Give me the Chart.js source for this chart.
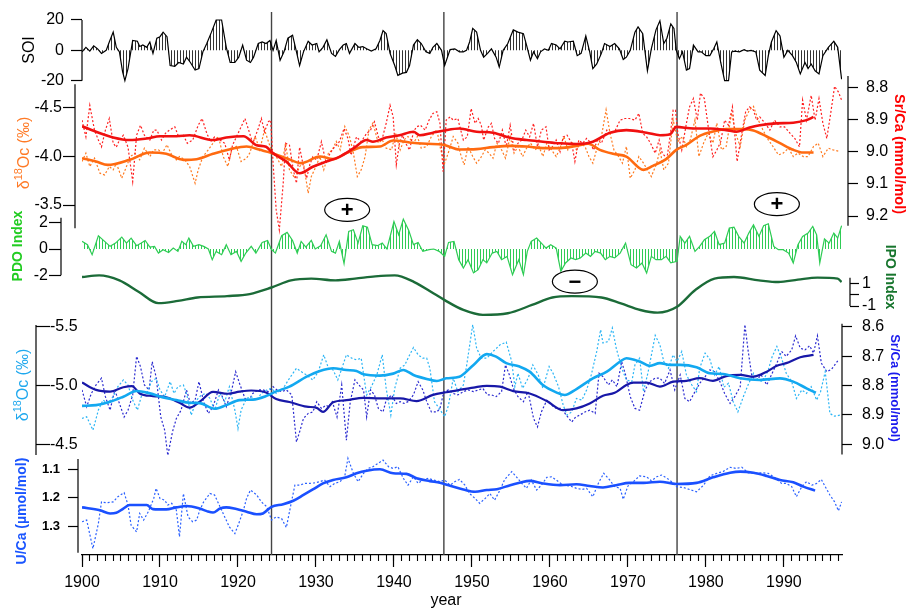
<!DOCTYPE html>
<html>
<head>
<meta charset="utf-8">
<script src="https://cdn.jsdelivr.net/npm/chart.js@4.4.1/dist/chart.umd.min.js"></script>
<style>
  html, body { margin: 0; padding: 0; background: #fff; }
  #wrap { width: 907px; height: 609px; }
</style>
</head>
<body>
<div id="wrap"><canvas id="c" width="907" height="609"></canvas></div>
<script>
// ---- data ----

// SOI
const soiYear = [
  1900.0,1900.5,1901.0,1901.5,1902.0,1902.5,1903.1,1903.5,1904.0,1904.4,
  1904.8,1905.2,1905.5,1905.9,1906.5,1907.1,1907.4,1907.8,1908.3,1908.7,
  1909.1,1909.6,1910.0,1910.4,1910.9,1911.3,1911.9,1912.4,1913.0,1913.4,
  1913.9,1914.5,1915.0,1915.5,1916.0,1916.6,1917.2,1917.9,1918.5,1919.0,
  1919.6,1920.1,1920.6,1921.1,1921.6,1922.0,1922.6,1923.1,1923.6,1924.1,
  1924.5,1924.9,1925.4,1925.9,1926.4,1927.0,1927.5,1927.9,1928.4,1929.0,
  1929.5,1930.1,1930.4,1930.9,1931.4,1932.0,1932.5,1933.0,1933.5,1933.9,
  1934.3,1935.0,1935.5,1936.0,1936.5,1937.1,1937.7,1938.2,1938.6,1939.0,
  1939.5,1940.1,1940.5,1941.1,1941.6,1942.0,1942.5,1943.0,1943.5,1944.1,
  1944.6,1945.0,1945.5,1946.1,1946.5,1947.2,1947.8,1948.4,1948.9,1949.3,
  1949.7,1950.1,1950.6,1951.1,1951.5,1952.0,1952.5,1953.1,1953.5,1954.0,
  1954.6,1955.3,1955.9,1956.6,1957.0,1957.5,1957.9,1958.4,1958.8,1959.3,
  1959.8,1960.2,1960.8,1961.3,1961.9,1962.3,1963.0,1963.5,1964.0,1964.6,
  1965.1,1965.5,1966.0,1966.6,1967.0,1967.7,1968.3,1968.9,1969.4,1969.8,
  1970.3,1970.9,1971.3,1971.9,1972.5,1973.0,1973.6,1974.1,1974.6,1975.0,
  1975.5,1975.9,1976.2,1976.6,1977.0,1977.5,1977.9,1978.4,1979.0,1979.4,
  1980.0,1980.5,1981.0,1981.4,1981.9,1982.4,1982.9,1983.3,1983.7,1984.3,
  1984.9,1985.3,1985.8,1986.4,1986.9,1987.6,1988.0,1988.4,1989.0,1989.5,
  1990.0,1990.5,1991.1,1991.6,1992.1,1992.7,1993.1,1993.5,1994.0,1994.5,
  1995.0,1995.7,1996.4,1996.9,1997.4
];
const soiValue = [
  -1,2,-0.5,3,1,-2,0,5.5,12,2,
  -1,-14,-20,-12,6.5,6,2.5,3.5,2,5.5,
  -2,8,9,12,9,-10,-10.5,-8,-9,-4.5,
  -8,-13,-12,-1,4.5,12,20,20,2,-8,
  -8,-4.5,3.5,-6.5,-8,-4.5,4.5,5.5,4.5,6.5,
  0,6.5,-6.5,-1,8,10,-1,-10,-1,6,
  3.5,4.5,-1,2,7,-2,-4,0.5,3.5,4.5,
  -2,4.5,2,2.5,1,-0.5,1,6.5,13,11,
  -2,-10,-16.5,-15,-14.5,-10,3.5,7,4.5,-1,
  -2,2,4.5,0,-10,0.5,1,-1,-1,0,
  5.5,14.5,12,0,-4.5,-2,1,-4.5,-11,0,
  4.5,13.5,12,11,3.5,-6.5,-1,-5.5,-1,1,
  0,4.5,3.5,1,6,5.5,6,-3.5,-2,9.5,
  -1,-12,-9,-2,4.5,2.5,4.5,1,-6,-4.5,
  0,12,15.5,11,-13.5,1,13.5,19.5,4.5,8,
  17.5,14.5,0,-5.5,-1,-13,-12,3.5,-1,-1,
  -3.5,-3.5,1,5.5,-8,-20,-20,-1,-0.5,-1,
  0.5,-0.5,0,-1,-13,-16.5,-3.5,5.5,13,9.5,
  -4.5,0,-3.5,-8,-15.5,-8,-12,-9,-13.5,-15.5,
  -3.5,2,6,2,-19
];

// Sr/Ca (red), smoothed
const srRedSmoothYear = [
  1900.0,1901.8,1904.0,1906.1,1908.3,1910.0,1912.1,1913.8,1916.8,1918.5,
  1920.7,1922.4,1923.6,1924.4,1926.2,1927.9,1929.6,1931.3,1933.0,1934.8,
  1936.5,1937.3,1939.0,1940.7,1942.5,1943.3,1945.0,1946.3,1948.4,1950.6,
  1952.7,1954.9,1957.0,1959.1,1961.3,1963.4,1965.5,1967.7,1969.8,1972.4,
  1974.1,1975.4,1976.2,1978.4,1980.5,1982.6,1983.9,1985.6,1986.9,1989.0,
  1991.2,1992.9,1993.8
];
const srRedSmooth = [
  8.921,8.938,8.956,8.964,8.959,8.952,8.952,8.949,8.964,8.956,
  8.952,8.980,8.985,9.003,9.031,9.067,9.047,9.031,9.016,8.990,
  8.964,8.969,8.956,8.949,8.938,8.949,8.941,8.935,8.928,8.938,
  8.941,8.957,8.964,8.969,8.974,8.976,8.969,8.941,8.933,8.941,
  8.949,8.946,8.923,8.928,8.928,8.933,8.938,8.925,8.918,8.912,
  8.910,8.902,8.892
];

// Sr/Ca (red), annual
const srRedYear = [
  1900.0,1900.5,1901.0,1901.6,1902.1,1902.5,1903.0,1903.5,1904.0,1904.4,
  1904.8,1905.3,1905.9,1906.5,1907.0,1907.5,1908.0,1908.7,1909.2,1909.6,
  1910.2,1910.7,1911.2,1911.9,1912.4,1913.0,1913.5,1914.2,1914.9,1915.4,
  1916.0,1916.5,1917.0,1917.7,1918.3,1918.9,1919.3,1919.8,1920.3,1920.9,
  1921.5,1921.9,1922.6,1923.0,1923.4,1923.9,1924.2,1924.5,1924.9,1925.3,
  1925.8,1926.1,1926.6,1927.1,1927.5,1927.9,1928.4,1928.8,1929.2,1929.6,
  1930.1,1930.7,1931.3,1931.8,1932.4,1933.0,1933.6,1934.1,1934.5,1935.2,
  1935.8,1936.5,1937.0,1937.5,1938.0,1938.4,1939.0,1939.5,1939.9,1940.3,
  1940.7,1941.1,1941.5,1942.0,1942.5,1942.9,1943.4,1944.0,1944.5,1945.0,
  1945.5,1945.9,1946.3,1946.7,1947.2,1947.6,1948.2,
  1948.4,1948.9,1949.4,1949.9,1950.4,1950.8,1951.2,1951.5,1952.1,1952.5,
  1952.9,1953.4,1953.9,1954.4,1954.9,1955.4,1955.9,1956.4,1956.9,1957.4,
  1957.9,1958.4,1958.9,1959.5,1959.9,1960.3,1960.8,1961.3,1961.7,1962.2,
  1962.8,1963.2,1963.7,1964.2,1964.7,1965.1,1965.6,1966.1,1966.6,1967.3,
  1967.7,1968.3,1969.0,1969.6,1970.2,1970.9,1971.4,1971.9,1972.4,1972.9,
  1973.5,1974.0,1974.4,1975.0,1975.4,1975.8,1976.1,1976.4,1976.9,1977.5,
  1977.9,1978.4,1978.9,1979.3,1979.8,1980.3,1980.9,1981.4,1981.9,1982.4,
  1982.9,1983.4,1984.0,1984.6,1985.1,1985.6,1986.1,1986.5,1986.9,1987.6,
  1988.2,1988.8,1989.5,1990.1,1990.8,1991.4,1992.0,1992.4,1992.9,1993.5,
  1994.0,1994.5,1995.0,1995.5,1996.0,1996.5,1997.0,1997.4
];
const srRed = [
  8.902,8.954,8.856,8.933,8.964,8.985,8.933,8.897,8.974,8.986,
  8.964,8.949,8.986,9.093,8.949,8.918,8.949,8.964,8.933,8.933,
  8.964,8.943,8.933,8.923,8.954,8.949,8.974,8.964,8.918,8.897,
  8.943,8.969,8.954,8.964,8.974,9.026,8.980,8.954,8.928,8.897,
  8.943,8.974,8.928,8.897,8.938,8.907,8.902,9.036,9.181,9.243,
  9.098,8.974,8.980,9.057,9.098,8.986,9.047,9.083,9.041,9.016,
  9.026,8.969,9.036,9.005,8.985,8.969,8.928,8.959,9.011,8.954,
  8.969,8.943,8.933,8.907,8.954,8.969,8.912,8.856,8.892,9.041,
  8.974,8.949,8.974,8.995,8.938,8.923,8.918,8.933,8.902,8.881,
  8.876,8.912,9.062,8.902,8.892,8.902,8.897,
  8.918,8.964,8.954,8.866,8.912,8.897,8.918,8.964,8.923,8.912,
  8.959,8.974,8.933,8.985,8.918,8.995,8.974,8.964,8.933,8.954,
  8.912,8.985,8.933,8.923,8.995,8.985,8.964,9.000,8.954,8.949,
  8.974,9.031,8.964,8.974,8.959,8.969,8.995,8.964,8.974,8.933,
  8.943,8.938,8.902,8.897,8.897,8.902,8.881,8.943,8.954,8.974,
  9.005,8.964,9.005,9.021,8.954,8.871,8.871,8.943,8.995,8.912,
  8.861,8.835,8.902,8.818,8.835,8.923,9.016,8.995,8.969,8.902,
  8.918,8.861,9.031,8.943,8.876,8.861,8.871,8.902,8.892,8.912,
  8.933,8.902,8.923,8.923,8.943,8.959,8.985,8.840,8.902,8.825,
  8.902,8.835,8.912,8.959,8.881,8.797,8.815,8.840
];

// d18O (orange), smoothed
const o18OrangeSmoothYear = [
  1900.0,1901.8,1903.3,1906.1,1908.7,1910.8,1913.0,1914.7,1916.8,1919.0,
  1921.1,1922.8,1924.4,1926.2,1928.1,1930.5,1932.2,1933.9,1936.0,1938.2,
  1939.9,1942.0,1944.2,1946.3,1948.4,1950.6,1952.7,1954.9,1957.0,1959.1,
  1961.3,1963.4,1964.9,1966.4,1968.1,1969.8,1972.0,1973.2,1974.9,1976.2,
  1977.5,1979.2,1980.9,1982.6,1984.8,1986.1,1987.8,1989.5,1991.2,1992.5,
  1993.8
];
const o18OrangeSmooth = [
  -3.981,-3.947,-3.912,-3.964,-4.039,-4.026,-3.964,-3.971,-4.026,-4.074,
  -4.101,-4.067,-4.033,-3.981,-3.930,-3.998,-3.971,-4.033,-4.095,-4.101,
  -4.163,-4.143,-4.129,-4.119,-4.070,-4.074,-4.095,-4.108,-4.101,-4.085,
  -4.085,-4.108,-4.129,-4.067,-4.026,-3.998,-3.861,-3.902,-3.971,-4.067,
  -4.119,-4.211,-4.256,-4.280,-4.280,-4.266,-4.204,-4.136,-4.067,-4.039,
  -4.039
];

// d18O (orange), annual
const o18OrangeYear = [
  1900.0,1900.5,1901.0,1901.6,1902.3,1902.9,1903.5,1904.0,1904.4,1905.1,
  1905.7,1906.2,1906.8,1907.4,1908.0,1908.7,1909.2,1909.8,1910.3,1910.9,
  1911.6,1912.1,1912.5,1913.2,1913.8,1914.5,1914.9,1915.5,1916.2,1916.8,
  1917.5,1918.1,1918.7,1919.2,1919.8,1920.4,1921.1,1921.5,1922.2,1922.8,
  1923.4,1923.9,1924.4,1924.9,1925.6,1926.1,1926.6,1927.3,1927.9,1928.4,
  1929.0,1929.4,1930.0,1930.5,1931.0,1931.6,1932.1,1932.6,1933.1,1933.7,
  1934.3,1934.8,1935.3,1935.8,1936.3,1936.8,1937.3,1938.0,1938.5,1939.0,
  1939.7,1940.2,1940.8,1941.3,1941.8,1942.5,1943.0,1943.5,1944.2,1944.8,
  1945.5,1946.0,1946.5,1947.1,1947.6,1948.2,1948.5,1949.0,1949.5,1950.1,
  1950.6,1951.1,1951.7,1952.2,1952.7,1953.2,1953.8,1954.3,1954.9,1955.4,
  1955.9,1956.5,1957.0,1957.5,1958.1,1958.6,1959.1,1959.6,1960.2,1960.8,
  1961.3,1961.8,1962.3,1962.9,1963.4,1963.9,1964.5,1965.0,1965.5,1966.1,
  1966.6,1967.2,1967.7,1968.2,1968.8,1969.3,1969.8,1970.3,1970.9,1971.4,
  1972.0,1972.5,1973.0,1973.7,1974.1,1974.6,1975.2,1975.8,1976.4,1977.0,
  1977.5,1978.0,1978.6,1979.1,1979.7,1980.3,1980.9,1981.4,1982.0,1982.6,
  1983.3,1983.8,1984.4,1985.0,1985.6,1986.1,1986.7,1987.3,1988.0,1988.6,
  1989.3,1989.9,1990.6,1991.2,1991.8,1992.5,1993.1,1993.8,1994.4,1995.0,
  1995.7,1996.3,1997.2
];
const o18Orange = [
  -3.947,-4.033,-3.895,-3.981,-3.827,-3.809,-3.895,-3.861,-3.930,-3.775,
  -3.895,-3.998,-4.033,-3.964,-4.084,-3.998,-4.067,-4.067,-4.033,-4.119,
  -3.998,-3.964,-3.998,-3.964,-3.895,-3.724,-3.861,-3.998,-4.067,-4.136,
  -4.204,-3.998,-3.895,-4.067,-4.101,-3.947,-3.981,-4.033,-4.204,-4.067,
  -4.273,-4.153,-4.033,-3.998,-3.895,-4.136,-3.861,-3.775,-3.895,-3.930,
  -3.621,-3.792,-3.895,-3.998,-3.861,-4.033,-4.067,-4.153,-4.067,-4.307,
  -4.204,-4.033,-3.792,-3.861,-3.998,-4.273,-4.342,-4.136,-4.170,-4.084,
  -4.067,-4.239,-4.067,-4.170,-4.204,-4.136,-4.204,-4.084,-4.101,-4.204,
  -4.273,-4.067,-3.930,-4.067,-4.204,-4.136,-4.033,-3.912,-4.101,-3.998,
  -3.930,-3.981,-4.067,-4.033,-3.981,-4.136,-4.067,-3.981,-4.204,-4.033,
  -4.101,-3.998,-4.084,-4.136,-4.067,-4.101,-3.998,-4.136,-4.067,-3.998,
  -4.084,-4.204,-4.067,-4.136,-4.067,-4.136,-4.101,-3.998,-3.930,-4.101,
  -4.204,-4.479,-4.239,-4.067,-3.998,-3.930,-4.101,-3.775,-3.861,-3.998,
  -3.930,-3.861,-3.792,-3.930,-4.067,-3.861,-3.930,-4.376,-4.153,-4.204,
  -4.101,-4.170,-4.376,-3.998,-4.136,-4.239,-4.136,-4.342,-4.067,-4.101,
  -4.445,-4.239,-4.101,-4.376,-4.479,-4.514,-4.376,-4.273,-4.170,-4.101,
  -4.015,-4.033,-4.084,-3.998,-4.033,-3.998,-3.998,-4.101,-4.136,-3.998,
  -4.084,-4.067,-4.050
];

// PDO index
const pdoYear = [
  1900.0,1900.7,1901.3,1902.1,1902.9,1903.6,1904.3,1905.1,1905.7,1906.3,
  1907.0,1907.6,1908.1,1908.7,1909.3,1909.8,1910.4,1911.1,1911.7,1912.3,
  1912.8,1913.3,1913.7,1914.3,1915.0,1915.6,1916.2,1916.7,1917.2,1917.9,
  1918.5,1919.1,1919.8,1920.4,1921.0,1921.7,1922.3,1923.1,1923.8,1924.3,
  1924.8,1925.6,1926.3,1927.0,1927.6,1928.1,1928.7,1929.4,1929.9,1930.6,
  1931.3,1932.0,1932.5,1933.0,1933.6,1934.2,1934.8,1935.4,1936.0,1936.6,
  1937.2,1937.9,1938.5,1939.1,1940.0,1940.6,1941.2,1941.9,1942.5,1943.1,
  1943.7,1944.5,1945.1,1945.8,1946.5,1947.0,1947.7,1948.3,1948.9,1949.5,
  1950.2,1950.8,1951.4,1951.9,1952.6,1953.2,1953.8,1954.5,1955.2,1956.0,
  1956.6,1957.1,1957.6,1958.3,1958.9,1959.5,1960.1,1960.8,1961.4,1962.0,
  1962.7,1963.3,1963.9,1964.6,1965.2,1965.8,1966.5,1967.1,1967.7,1968.3,
  1969.0,1969.7,1970.4,1971.1,1971.8,1972.4,1973.0,1973.6,1974.3,1974.9,
  1975.5,1976.3,1976.7,1977.3,1977.9,1978.6,1979.2,1979.8,1980.5,1981.1,
  1981.7,1982.4,1983.0,1983.6,1984.2,1984.9,1985.5,1986.1,1986.8,1987.4,
  1988.0,1988.7,1989.3,1989.9,1990.6,1991.2,1991.8,1992.4,1993.1,1993.7,
  1994.2,1994.6,1995.2,1995.8,1996.4,1996.9,1997.4
];
const pdoValue = [
  0.58,0.33,-0.43,1.01,0.58,0.20,0.45,0.91,0.45,0.83,
  0.25,0.45,0.65,0.15,0.20,-0.31,-0.05,-0.26,0.07,-0.18,
  0.58,0.33,0.83,0.20,0.33,0.20,0.00,-0.81,-0.18,-0.43,
  0.33,-0.43,-0.18,-0.94,-0.31,0.20,-0.31,0.50,0.65,-0.05,
  -0.31,1.01,1.26,0.65,-0.31,0.58,0.15,0.65,0.00,0.25,
  1.08,-0.18,-0.31,0.58,-1.11,1.34,1.46,0.45,1.77,1.66,
  0.33,0.25,0.45,0.00,2.09,1.08,2.27,1.41,0.33,0.50,
  -0.18,-0.05,0.00,-0.18,-0.56,0.50,0.58,-0.81,-1.44,-0.81,
  -1.82,-1.57,-0.81,-1.06,-0.31,-0.18,-0.81,-0.56,-1.95,-0.81,
  -1.95,-0.18,0.58,0.83,0.45,0.07,0.33,0.07,-1.69,-1.06,
  -0.68,-0.81,-0.68,-0.31,-0.56,-0.18,-0.31,-0.81,-0.56,-0.68,
  -0.31,0.45,-1.19,-1.44,-1.06,-1.82,-0.56,-0.81,-0.81,-0.56,
  -1.06,-0.94,0.96,0.45,0.96,-0.18,0.20,0.70,0.96,1.34,
  0.33,0.45,1.59,1.66,0.96,0.45,1.21,1.84,0.96,1.77,
  1.92,0.20,-0.05,-0.05,-0.31,-1.06,0.33,0.96,1.21,1.71,
  1.08,-1.06,0.76,0.45,1.21,0.83,1.77
];

// IPO index (smoothed)
const ipoYear = [
  1900.0,1902.2,1904.8,1907.3,1909.8,1912.3,1914.8,1918.6,1921.5,1924.3,
  1926.8,1929.4,1932.5,1935.0,1937.6,1940.1,1942.6,1945.1,1946.5,1948.9,
  1951.4,1954.6,1957.7,1960.3,1962.8,1966.6,1969.1,1971.6,1973.8,1976.3,
  1978.6,1981.1,1983.6,1986.8,1989.3,1991.8,1994.3,1996.9,1997.4
];
const ipoValue = [
  1.55,1.70,1.26,0.24,-0.75,-0.55,-0.25,-0.13,0.05,0.63,
  1.26,1.41,1.26,1.41,1.61,1.70,1.11,0.10,-0.48,-1.35,
  -1.78,-1.64,-0.91,-0.25,-0.13,-0.25,-0.77,-1.35,-1.58,-1.06,
  0.39,1.41,1.55,1.26,1.11,1.32,1.50,1.41,1.11
];

// d18O (light blue), smoothed
const o18BlueSmoothYear = [
  1900.0,1901.8,1903.6,1905.3,1907.0,1908.7,1910.4,1912.1,1913.8,1915.1,
  1917.0,1918.5,1920.2,1921.9,1923.6,1924.9,1926.6,1928.8,1930.5,1932.2,
  1933.9,1935.2,1936.1,1938.2,1939.9,1941.2,1942.5,1944.2,1945.5,1946.7,
  1948.4,1950.2,1951.9,1953.1,1954.4,1956.1,1957.4,1959.1,1960.8,1961.9,
  1963.4,1965.5,1967.3,1969.0,1969.8,1971.5,1972.8,1974.1,1975.4,1976.7,
  1978.8,1980.5,1982.2,1984.4,1986.9,1989.5,1991.2,1992.9,1994.1
];
const o18BlueSmooth = [
  -4.827,-4.833,-4.862,-4.905,-4.953,-4.933,-4.899,-4.876,-4.853,-4.850,
  -4.802,-4.833,-4.876,-4.880,-4.910,-4.950,-4.990,-5.075,-5.124,-5.147,
  -5.132,-5.124,-5.095,-5.084,-5.101,-5.132,-5.090,-5.056,-5.038,-5.061,
  -5.075,-5.175,-5.267,-5.246,-5.190,-5.161,-5.118,-5.004,-4.942,-4.919,
  -4.970,-5.061,-5.118,-5.204,-5.232,-5.204,-5.167,-5.190,-5.175,-5.175,
  -5.155,-5.104,-5.098,-5.061,-5.047,-5.061,-5.033,-4.976,-4.938
];

// d18O (light blue), annual
const o18BlueYear = [
  1900.0,1900.6,1901.4,1902.1,1902.7,1903.3,1904.0,1904.6,1905.3,1905.9,
  1906.5,1907.1,1907.6,1908.3,1908.9,1909.5,1910.0,1910.6,1911.3,1911.8,
  1912.3,1913.0,1913.4,1914.0,1914.7,1915.3,1915.9,1916.4,1917.0,1917.7,
  1918.3,1918.9,1919.6,1920.0,1920.4,1921.1,1921.7,1922.4,1923.0,1923.7,
  1924.3,1924.9,1925.8,1926.6,1927.5,1928.1,1928.8,1929.6,1930.3,1931.0,
  1931.6,1932.2,1932.8,1933.4,1933.9,1934.6,1935.2,1935.8,1936.5,1937.1,
  1937.8,1938.5,1939.0,1939.6,1940.1,1940.8,1941.4,1941.8,1942.5,1943.1,
  1943.7,1944.2,1944.6,1945.2,1945.8,1946.5,1947.0,1947.6,1948.2,1948.9,
  1949.3,1950.1,1950.6,1951.2,1951.9,1952.7,1953.6,1954.4,1955.1,1955.5,
  1955.9,1956.5,1957.2,1957.8,1958.5,1959.1,1959.9,1960.4,1961.1,1961.7,
  1962.2,1962.8,1963.4,1964.1,1964.7,1965.3,1966.0,1966.5,1966.8,1967.5,
  1968.0,1968.5,1969.2,1969.8,1970.5,1970.9,1971.5,1972.0,1972.6,1973.5,
  1974.1,1974.6,1975.2,1975.8,1976.3,1976.9,1977.5,1978.2,1978.8,
  1979.2,1979.9,1980.5,1981.1,1981.7,1982.3,1982.9,1983.5,1984.1,1984.8,
  1985.4,1986.1,1986.7,1987.3,1988.0,1988.5,1989.1,1989.7,1990.3,1991.0,
  1991.6,1992.3,1992.9,1993.5,1994.2,1994.7,1995.3,1995.9,1996.5,1997.2
];
const o18Blue = [
  -4.720,-4.734,-4.620,-4.791,-4.876,-4.848,-4.905,-4.990,-5.047,-5.004,
  -4.876,-4.791,-4.905,-4.933,-5.033,-5.061,-4.962,-4.905,-5.033,-4.933,
  -4.990,-5.004,-4.933,-4.748,-4.876,-4.919,-4.933,-4.890,-4.791,-4.933,
  -4.862,-4.990,-4.791,-4.634,-4.791,-4.890,-4.905,-4.876,-4.933,-4.962,
  -4.976,-4.933,-4.976,-5.061,-5.147,-5.118,-5.090,-5.047,-5.118,-5.261,
  -5.147,-5.132,-5.047,-5.161,-5.261,-5.232,-5.218,-5.232,-4.919,-4.990,
  -5.090,-5.261,-4.976,-4.748,-4.976,-5.147,-5.175,-5.232,-5.323,-5.261,
  -5.232,-5.232,-5.147,-4.862,-4.805,-4.734,-4.833,-5.061,-4.947,-5.004,
  -5.161,-5.517,-5.318,-5.232,-5.232,-5.289,-5.346,-5.369,-5.204,-4.990,
  -5.104,-4.976,-5.061,-5.175,-5.090,-4.976,-5.161,-5.104,-4.990,-4.833,
  -4.748,-4.776,-4.890,-4.876,-4.962,-5.090,-5.289,-5.474,-5.361,-5.375,
  -5.489,-5.318,-5.147,-5.047,-5.033,-5.175,-5.232,-4.947,-5.118,-5.426,
  -5.346,-5.204,-5.147,-5.261,-5.204,-5.289,-5.090,-5.004,-4.947,
  -5.147,-5.275,-5.224,-5.090,-5.161,-4.985,-5.019,-4.862,-4.776,-4.905,
  -5.004,-5.104,-5.047,-5.033,-5.132,-5.246,-5.332,-5.232,-5.104,-5.033,
  -4.890,-4.962,-4.933,-4.990,-4.876,-4.947,-5.118,-4.762,-4.739,-4.748
];

// Sr/Ca (dark blue), smoothed
const srBlueSmoothYear = [
  1900.0,1901.8,1903.6,1905.3,1906.4,1907.4,1909.1,1910.8,1912.5,1913.8,
  1915.1,1916.8,1918.7,1920.2,1921.7,1923.6,1924.9,1926.6,1928.8,1930.1,
  1930.9,1932.2,1933.9,1936.1,1938.2,1940.8,1942.9,1945.0,1946.7,1948.4,
  1950.2,1951.9,1953.6,1955.3,1957.4,1959.6,1961.7,1963.4,1965.1,1966.8,
  1968.3,1969.8,1970.7,1972.4,1974.1,1975.8,1977.5,1979.2,1980.9,1982.6,
  1984.4,1986.1,1987.8,1989.1,1990.3,1992.1,1993.8
];
const srBlueSmooth = [
  8.790,8.815,8.821,8.806,8.802,8.827,8.836,8.840,8.859,8.875,
  8.855,8.822,8.828,8.821,8.817,8.824,8.846,8.856,8.872,8.876,
  8.890,8.857,8.850,8.842,8.844,8.844,8.853,8.832,8.823,8.815,
  8.807,8.801,8.804,8.819,8.827,8.853,8.884,8.878,8.861,8.835,
  8.825,8.798,8.790,8.790,8.804,8.787,8.784,8.775,8.784,8.768,
  8.764,8.770,8.753,8.733,8.724,8.704,8.696
];

// Sr/Ca (dark blue), annual
const srBlueYear = [
  1900.0,1900.6,1901.2,1901.8,1902.5,1903.0,1903.6,1904.2,1904.8,1905.4,
  1905.9,1906.5,1907.0,1907.5,1908.0,1908.6,1909.0,1909.5,1910.1,1910.6,
  1911.0,1911.6,1912.1,1912.7,1913.4,1913.9,1914.5,1915.0,1915.6,1916.2,
  1916.8,1917.5,1918.0,1918.5,1919.2,1919.7,1920.2,1920.9,1921.4,1921.9,
  1922.6,1923.2,1923.9,1924.5,1925.0,1925.6,1926.2,1926.9,1927.5,1927.9,
  1928.4,1929.0,1929.6,1930.1,1930.7,1931.3,1931.6,1932.1,1932.7,1933.3,
  1933.9,1934.4,1935.0,1935.5,1936.1,1936.5,1937.0,1937.5,1938.0,1938.6,
  1939.0,1939.7,1940.3,1940.8,1941.3,1941.8,1942.5,1943.1,1943.7,1944.2,
  1944.8,1945.5,1945.9,1946.4,1947.0,1947.6,1948.2,1948.9,1949.5,1950.2,
  1950.8,1951.4,1952.0,1952.5,1953.1,1953.8,1954.3,1954.8,1955.3,1955.9,
  1956.6,1957.2,1957.9,1958.4,1958.9,1959.6,1960.2,1960.8,1961.5,1962.1,
  1962.8,1963.3,1963.8,1964.5,1965.1,1965.8,1966.3,1966.8,1967.5,1968.0,
  1968.6,1969.2,1969.7,1970.3,1970.9,1971.5,1972.2,1972.8,1973.5,1974.1,
  1974.7,1975.4,1976.0,1976.7,1977.3,1977.9,1978.6,1979.2,1979.9,1980.5,
  1981.1,1981.8,1982.4,1983.1,1983.7,1984.4,1985.0,1985.4,1985.9,1986.5,
  1987.1,1987.8,1988.4,1989.1,1989.7,1990.3,1991.0,1991.5,1992.1,1992.7,
  1993.3,1993.8,1994.3,1994.8,1995.5,1996.1,1997.0
];
const srBlue = [
  8.815,8.872,8.827,8.798,8.775,8.838,8.884,8.815,8.861,8.907,
  8.884,8.832,8.701,8.736,8.798,8.815,8.719,8.770,8.907,8.952,
  9.038,8.958,8.912,8.884,8.815,8.861,8.850,8.787,8.855,8.895,
  8.872,8.815,8.838,8.872,8.815,8.753,8.793,8.844,8.850,8.827,
  8.815,8.815,8.821,8.804,8.815,8.821,8.815,8.832,8.992,8.958,
  8.912,8.895,8.890,8.855,8.878,8.867,8.872,8.855,8.907,8.798,
  8.986,8.855,8.781,8.798,8.815,8.907,8.815,8.832,8.878,8.890,
  8.850,8.832,8.861,8.855,8.861,8.855,8.832,8.787,8.815,8.855,
  8.890,8.890,8.878,8.821,8.815,8.827,8.832,8.821,8.815,8.821,
  8.815,8.810,8.832,8.832,8.838,8.821,8.730,8.764,8.810,8.838,
  8.855,8.821,8.912,8.941,8.890,8.850,8.867,8.878,8.878,8.901,
  8.924,8.907,8.901,8.890,8.884,8.895,8.758,8.770,8.798,8.781,
  8.804,8.719,8.764,8.838,8.878,8.884,8.815,8.787,8.775,8.775,
  8.793,8.747,8.815,8.764,8.844,8.855,8.821,8.793,8.770,8.747,
  8.753,8.787,8.827,8.861,8.838,8.804,8.593,8.679,8.770,8.781,
  8.764,8.798,8.764,8.724,8.684,8.701,8.679,8.631,8.673,8.679,
  8.665,8.690,8.631,8.724,8.753,8.745,8.713
];

// U/Ca, smoothed
const uCaSmoothYear = [
  1900.0,1902.3,1903.6,1904.4,1905.3,1906.1,1908.3,1909.1,1910.8,1912.1,
  1913.4,1915.1,1916.0,1916.8,1917.7,1918.5,1919.8,1921.1,1922.4,1923.2,
  1924.3,1925.8,1927.1,1928.4,1929.6,1930.9,1932.2,1933.9,1935.2,1936.5,
  1938.2,1939.9,1941.6,1942.9,1944.6,1945.9,1947.2,1948.9,1950.4,1951.9,
  1953.2,1954.9,1956.1,1957.4,1959.1,1961.3,1963.4,1965.1,1966.8,1968.5,
  1970.2,1972.0,1974.1,1976.2,1978.8,1980.9,1983.1,1984.4,1986.1,1987.8,
  1989.5,1991.2,1992.5,1994.0
];
const uCaSmooth = [
  1.233,1.243,1.254,1.252,1.237,1.225,1.225,1.239,1.240,1.233,
  1.228,1.237,1.246,1.251,1.237,1.233,1.239,1.248,1.257,1.254,
  1.231,1.222,1.210,1.190,1.171,1.150,1.138,1.129,1.115,1.106,
  1.101,1.115,1.117,1.132,1.142,1.148,1.158,1.171,1.179,1.173,
  1.170,1.156,1.148,1.141,1.150,1.156,1.153,1.159,1.164,1.156,
  1.148,1.148,1.144,1.152,1.148,1.129,1.113,1.109,1.113,1.124,
  1.138,1.146,1.161,1.175
];

// U/Ca, annual
const uCaYear = [
  1900.0,1900.6,1901.4,1902.1,1902.5,1903.1,1904.0,1904.6,1905.4,1905.9,
  1906.3,1907.0,1907.4,1907.9,1908.5,1909.2,1909.5,1910.0,1910.6,1911.0,
  1911.5,1912.1,1912.5,1913.0,1913.6,1914.2,1914.7,1915.1,1915.6,1916.4,
  1917.0,1917.7,1918.3,1918.9,1919.6,1920.1,1920.7,1921.1,1921.6,1922.4,
  1923.0,1923.7,1924.3,1924.9,1925.6,1926.2,1926.9,1927.3,1927.9,1928.6,
  1929.2,1929.8,1930.5,1931.1,1931.8,1932.4,1933.1,1933.7,1934.1,1934.8,
  1935.4,1936.1,1936.7,1937.3,1938.0,1938.6,1939.3,1939.9,1940.5,1941.2,
  1941.8,1942.5,1943.1,1943.7,1944.4,1945.0,1945.9,1946.5,1947.2,1947.8,
  1948.4,1949.1,1949.7,1950.4,1951.0,1951.7,1952.3,1952.9,1953.6,1954.2,
  1955.1,1955.7,1956.4,1957.0,1957.6,1958.3,1958.9,1959.6,1960.2,1960.8,
  1961.7,1962.6,1963.4,1964.1,1964.7,1965.5,1966.2,1966.9,1967.6,1968.3,
  1969.0,1969.4,1970.0,1970.7,1971.5,1972.4,1973.0,1973.7,1974.3,1975.0,
  1975.6,1976.2,1977.1,1977.9,1978.8,1979.7,1980.5,1981.4,1982.2,1983.1,
  1983.9,1984.6,1985.4,1986.3,1987.1,1988.0,1988.8,1989.7,1990.3,1991.0,
  1991.6,1992.3,1992.9,1993.6,1994.2,1994.8,1995.3,1995.9,1996.5,1997.0,
  1997.4
];
const uCa = [
  1.283,1.277,1.376,1.289,1.214,1.217,1.214,1.196,1.182,1.225,
  1.295,1.318,1.254,1.277,1.248,1.202,1.167,1.202,1.208,1.225,
  1.219,1.243,1.335,1.185,1.266,1.283,1.277,1.243,1.214,1.185,
  1.190,1.231,1.266,1.301,1.324,1.289,1.243,1.202,1.173,1.190,
  1.214,1.231,1.277,1.266,1.272,1.303,1.208,1.156,1.156,1.150,
  1.150,1.148,1.144,1.138,1.161,1.150,1.144,1.124,1.063,1.115,
  1.144,1.115,1.098,1.092,1.080,1.069,1.092,1.098,1.092,1.132,
  1.156,1.127,1.150,1.138,1.132,1.138,1.144,1.138,1.156,1.144,
  1.136,1.156,1.185,1.202,1.219,1.202,1.185,1.208,1.173,1.136,
  1.109,1.127,1.150,1.167,1.138,1.173,1.156,1.129,1.127,1.138,
  1.156,1.159,1.167,1.171,1.167,1.196,1.150,1.115,1.136,1.161,
  1.167,1.205,1.159,1.144,1.124,1.127,1.141,1.127,1.121,1.132,
  1.144,1.161,1.164,1.171,1.179,1.156,1.124,1.115,1.109,1.094,
  1.098,1.094,1.113,1.115,1.113,1.115,1.129,1.150,1.150,1.161,
  1.196,1.161,1.144,1.156,1.150,1.136,1.161,1.190,1.214,1.245,
  1.214
];

// regime boundaries and phase marks
const shiftYears = [1924.3, 1946.4, 1976.3];
const phaseMarks = [
  { year: 1934.0, pdo: 2.98, sign: "+" },
  { year: 1989.1, pdo: 3.41, sign: "+" },
  { year: 1963.2, pdo: -2.48, sign: "\u2212" }
];

// tick values
const xMajorTicks = [1900, 1910, 1920, 1930, 1940, 1950, 1960, 1970, 1980, 1990];
const xMinorTicks = Array.from({ length: 98 }, (_, i) => 1900 + i);
const soiTicks = [20, 0, -20];
const o18OrangeTicks = [-4.5, -4.0, -3.5];
const srRedTicks = [8.8, 8.9, 9.0, 9.1, 9.2];
const pdoTicks = [2, 0, -2];
const ipoTicks = [1, 0, -1];
const o18BlueTicks = [-5.5, -5.0, -4.5];
const srBlueTicks = [8.6, 8.7, 8.8, 8.9, 9.0];
const uCaTicks = [1.1, 1.2, 1.3];

// ---- layout ----
const TOP = 12, BOTTOM = 555;
const FONT = "'Liberation Sans', Arial, sans-serif";

// value/pixel pairs measured on the figure -> axis range over the whole plot height
function fitRange(v1, p1, v2, p2) {
  const s = (p2 - p1) / (v2 - v1);
  const a = v1 + (TOP - p1) / s, b = v1 + (BOTTOM - p1) / s;
  return s > 0 ? { min: a, max: b, reverse: true } : { min: b, max: a, reverse: false };
}

function yAxis(o) {
  const r = fitRange(...o.cal);
  return {
    type: "linear", position: o.pos, weight: o.weight,
    min: r.min, max: r.max, reverse: r.reverse,
    afterBuildTicks: s => { s.ticks = o.ticks.map(v => ({ value: v })); },
    afterFit: s => {
      s.width = o.width; s.paddingTop = 0; s.paddingBottom = 0;
      // axes are packed tightly, so let tick labels spill outside their box
      s._computeLabelArea = () => null;
    },
    border: { display: false },
    grid: { drawOnChartArea: false, drawTicks: true, tickLength: o.tl, color: "#000", tickColor: "#000", tickWidth: 1.2 },
    ticks: {
      autoSkip: false, padding: o.pad, mirror: !!o.mirror, color: "#000",
      font: o.font || { family: FONT, size: 16 },
      callback: v => o.fmt(v)
    }
  };
}

const fix1 = v => v.toFixed(1);
const int = v => String(Math.round(v));

const scales = {
  x: {
    type: "linear", position: "bottom", weight: 1, min: 1900, max: 1997.45,
    afterBuildTicks: s => { s.ticks = xMajorTicks.map(v => ({ value: v })); },
    afterFit: s => { s.height = 54; s.paddingLeft = 0; s.paddingRight = 0; },
    border: { display: true, color: "#000", width: 1.2 },
    grid: { drawOnChartArea: false, tickLength: 12, color: "#000", tickColor: "#000", tickWidth: 1.2 },
    ticks: { autoSkip: false, maxRotation: 0, padding: 6, color: "#000", font: { family: FONT, size: 16 }, callback: v => String(v) }
  },
  xm: {
    type: "linear", position: "bottom", weight: 0, min: 1900, max: 1997.45,
    afterBuildTicks: s => { s.ticks = xMinorTicks.map(v => ({ value: v })); },
    afterFit: s => { s.height = 0; s.paddingLeft = 0; s.paddingRight = 0; },
    border: { display: false },
    grid: { drawOnChartArea: false, tickLength: 6, color: "#000", tickColor: "#000", tickWidth: 1.1 },
    ticks: { autoSkip: false, maxRotation: 0, callback: () => "" }
  },
  yAll: { type: "linear", display: false, min: 0, max: 1 },
  ySOI: yAxis({ pos: "left", weight: 1, width: 4, cal: [20, 20, -20, 80.7], ticks: soiTicks, tl: 11, pad: 7, fmt: int }),
  yUCa: yAxis({ pos: "left", weight: 2, width: 3, cal: [1.1, 469, 1.3, 526.7], ticks: uCaTicks, tl: 10, pad: 8, fmt: fix1,
                font: { family: FONT, size: 13, weight: "bold" } }),
  yO18a: yAxis({ pos: "left", weight: 3, width: 14, cal: [-4.5, 107.7, -3.5, 205], ticks: o18OrangeTicks, tl: 12, pad: 1, fmt: fix1 }),
  yPDO: yAxis({ pos: "left", weight: 4, width: 25, cal: [2, 222.7, -2, 275.3], ticks: pdoTicks, tl: 12, pad: 1, fmt: int }),
  yO18b: yAxis({ pos: "left", weight: 5, width: 36, cal: [-5.5, 326.7, -4.5, 444.3], ticks: o18BlueTicks, tl: -14, pad: 14, mirror: true, fmt: fix1 }),
  ySrB: yAxis({ pos: "right", weight: 1, width: 6, cal: [8.6, 326.7, 9.0, 444.3], ticks: srBlueTicks, tl: 10, pad: 10, fmt: fix1 }),
  ySrA: yAxis({ pos: "right", weight: 2, width: 2, cal: [8.8, 87.3, 9.2, 216], ticks: srRedTicks, tl: 10, pad: 8, fmt: fix1 }),
  yIPO: yAxis({ pos: "right", weight: 3, width: 57, cal: [1, 283.3, -1, 306], ticks: ipoTicks, tl: 9, pad: 3, fmt: v => (v === 0 ? "" : int(v)) })
};

// partial axis spines (value ranges on each axis)
const spines = {
  ySOI: [20, -20], yO18a: [-4.74, -3.26], ySrA: [8.765, 9.23], yPDO: [2.37, -2],
  yIPO: [1.5, -1], yO18b: [-5.515, -4.41], ySrB: [8.59, 9.035], yUCa: [1.065, 1.39]
};

// axis titles
const titles = [
  { parts: [["SOI"]], x: 30, y: 50, rot: -1, color: "#000", size: 16 },
  { parts: [["\u03b4"], ["18", 1], ["Oc (\u2030)"]], x: 25, y: 153, rot: -1, color: "#ff7a26", size: 16 },
  { parts: [["PDO Index"]], x: 18, y: 246, rot: -1, color: "#22cc22", size: 14, bold: true },
  { parts: [["Sr/Ca (mmol/mol)"]], x: 899, y: 154, rot: 1, color: "#ff0000", size: 14.5, bold: true },
  { parts: [["IPO Index"]], x: 890, y: 277, rot: 1, color: "#17752d", size: 14, bold: true },
  { parts: [["\u03b4"], ["18", 1], ["Oc (\u2030)"]], x: 24, y: 385, rot: -1, color: "#1fa8ee", size: 16 },
  { parts: [["Sr/Ca (mmol/mol)"]], x: 895, y: 388, rot: 1, color: "#1a1aee", size: 13, bold: true },
  { parts: [["U/Ca (\u00b5mol/mol)"]], x: 22, y: 511, rot: -1, color: "#1a55ff", size: 14, bold: true },
  { parts: [["year"]], x: 446, y: 601, rot: 0, color: "#000", size: 16 }
];

const decor = {
  id: "decor",
  afterDraw(chart) {
    const ctx = chart.ctx;
    ctx.save();
    // spines
    ctx.strokeStyle = "#000";
    ctx.lineWidth = 1.2;
    for (const id in spines) {
      const s = chart.scales[id];
      const x = s.position === "left" ? s.right : s.left;
      ctx.beginPath();
      ctx.moveTo(x, s.getPixelForValue(spines[id][0]));
      ctx.lineTo(x, s.getPixelForValue(spines[id][1]));
      ctx.stroke();
    }
    // phase marks
    const xs = chart.scales.x, ys = chart.scales.yPDO;
    phaseMarks.forEach(m => {
      const cx = xs.getPixelForValue(m.year), cy = ys.getPixelForValue(m.pdo);
      ctx.beginPath();
      ctx.ellipse(cx, cy, 22.5, 11.5, 0, 0, Math.PI * 2);
      ctx.fillStyle = "#fff";
      ctx.fill();
      ctx.lineWidth = 1.2;
      ctx.stroke();
      ctx.fillStyle = "#000";
      ctx.font = "bold 22px " + FONT;
      ctx.textAlign = "center";
      ctx.textBaseline = "middle";
      ctx.fillText(m.sign, cx, cy + 1);
    });
    // titles
    titles.forEach(t => {
      ctx.save();
      ctx.translate(t.x, t.y);
      ctx.rotate(t.rot * Math.PI / 2);
      ctx.fillStyle = t.color;
      ctx.textBaseline = "middle";
      ctx.textAlign = "left";
      const fontOf = p => (t.bold ? "bold " : "") + (p[1] ? t.size * 0.68 : t.size) + "px " + FONT;
      let total = 0;
      t.parts.forEach(p => { ctx.font = fontOf(p); total += ctx.measureText(p[0]).width; });
      let x = -total / 2;
      t.parts.forEach(p => {
        ctx.font = fontOf(p);
        ctx.fillText(p[0], x, p[1] ? -t.size * 0.38 : 0);
        x += ctx.measureText(p[0]).width;
      });
      ctx.restore();
    });
    ctx.restore();
  }
};

// ---- datasets ----
const pts = (xs, ys) => xs.map((x, i) => ({ x, y: ys[i] }));

function series(axis, xs, ys, color, width, opts) {
  return Object.assign({
    type: "line", xAxisID: "x", yAxisID: axis, data: pts(xs, ys),
    borderColor: color, borderWidth: width, pointRadius: 0, fill: false, tension: 0
  }, opts || {});
}

function hatch(color, period) {
  const c = document.createElement("canvas");
  c.width = period; c.height = 4;
  const g = c.getContext("2d");
  g.fillStyle = color;
  g.fillRect(0, 0, 1, 4);
  return document.getElementById("c").getContext("2d").createPattern(c, "repeat");
}

const smooth = { cubicInterpolationMode: "monotone" };
const dotted = { borderDash: [2, 2] };

const vlines = [];
shiftYears.forEach(y => { vlines.push({ x: y, y: 0 }, { x: y, y: 1 }, { x: y, y: null }); });

const datasets = [
  series("ySrA", srRedSmoothYear, srRedSmooth, "#f01010", 2.6, smooth),
  series("yO18a", o18OrangeSmoothYear, o18OrangeSmooth, "#ff6a10", 2.6, smooth),
  series("yO18b", o18BlueSmoothYear, o18BlueSmooth, "#12a8f0", 2.6, smooth),
  series("ySrB", srBlueSmoothYear, srBlueSmooth, "#1818a8", 2.2, smooth),
  series("yUCa", uCaSmoothYear, uCaSmooth, "#1a50ff", 2.6, smooth),
  series("yIPO", ipoYear, ipoValue, "#1b6b38", 2.4, smooth),
  series("ySrA", srRedYear, srRed, "#ff2020", 1.2, dotted),
  series("yO18a", o18OrangeYear, o18Orange, "#ff7a20", 1.2, dotted),
  series("yO18b", o18BlueYear, o18Blue, "#2bb5f5", 1.2, dotted),
  series("ySrB", srBlueYear, srBlue, "#2a2ad0", 1.2, dotted),
  series("yUCa", uCaYear, uCa, "#2a60ff", 1.2, dotted),
  series("yPDO", pdoYear, pdoValue, "#2fcc55", 1.2, { fill: "origin", backgroundColor: hatch("#2fcc55", 3) }),
  series("ySOI", soiYear, soiValue, "#000", 1.2, { fill: "origin", backgroundColor: hatch("#333", 3) }),
  { type: "line", xAxisID: "x", yAxisID: "yAll", data: vlines, borderColor: "#444", borderWidth: 1.4, pointRadius: 0, spanGaps: false }
];

new Chart(document.getElementById("c"), {
  type: "line",
  data: { datasets },
  options: {
    responsive: false,
    devicePixelRatio: 1,
    animation: false,
    events: [],
    layout: { padding: { top: TOP, left: 0, right: 0, bottom: 0 } },
    plugins: { legend: { display: false }, tooltip: { enabled: false }, title: { display: false } },
    scales
  },
  plugins: [decor]
});
</script>
</body>
</html>
